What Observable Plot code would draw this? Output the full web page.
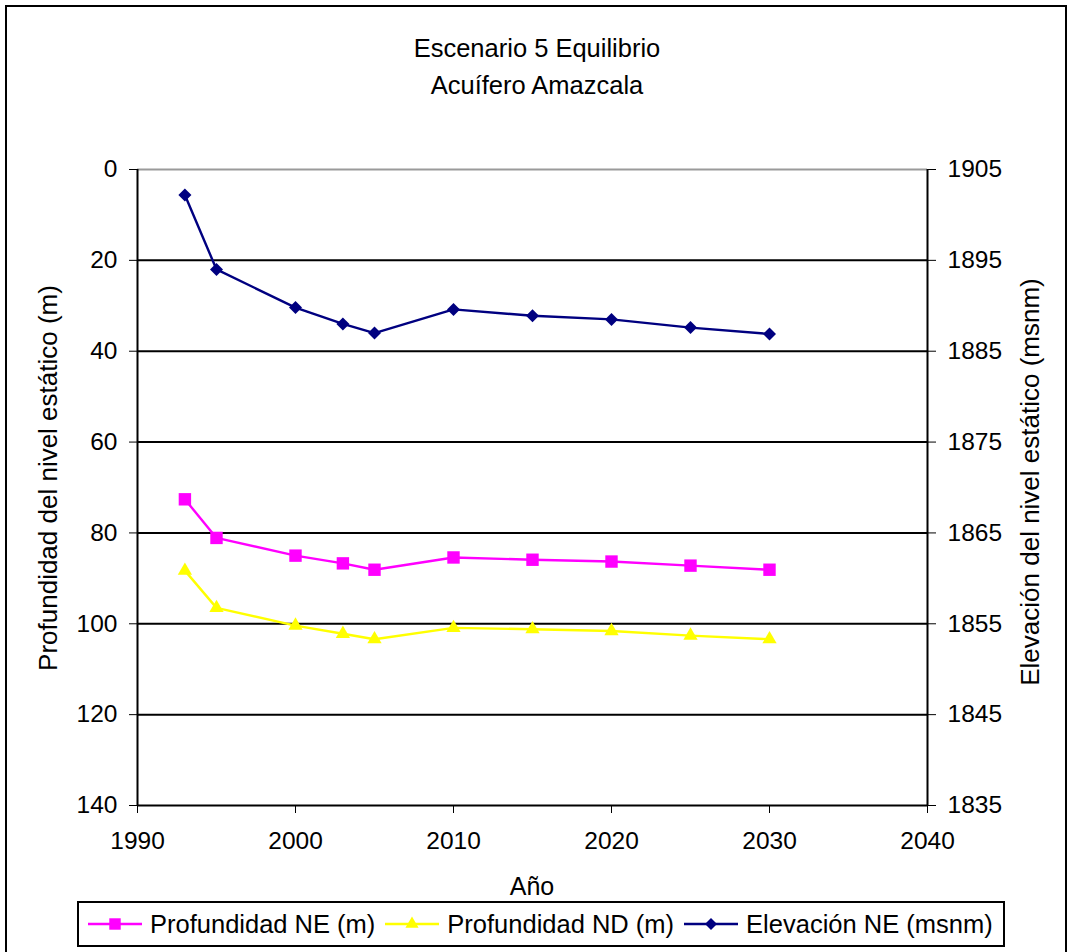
<!DOCTYPE html>
<html>
<head>
<meta charset="utf-8">
<script src="https://cdn.jsdelivr.net/npm/d3@7"></script>
<script src="https://cdn.jsdelivr.net/npm/@observablehq/plot@0.6"></script>
<style>
  body { margin: 0; background: #fff; font-family: "Liberation Sans", Arial, sans-serif; color: #000; }
  #chart { position: relative; width: 1070px; height: 952px; overflow: hidden; background: #fff; }
  #frame { position: absolute; left: 5px; top: 5px; width: 1062px; height: 1000px; border: 2px solid #000; box-sizing: border-box; }
  #plot { position: absolute; left: 0; top: 0; }
  .title { position: absolute; left: 0; top: 30px; width: 1074px; text-align: center; font-size: 25.5px; line-height: 37px; }
  .axlabel { position: absolute; font-size: 26px; white-space: nowrap; transform: translate(-50%, -50%); }
  .axlabel.rot { transform: translate(-50%, -50%) rotate(-90deg); }
  #legend { position: absolute; left: 77px; top: 901px; width: 928px; height: 46px; border: 2px solid #000; box-sizing: border-box; display: flex; align-items: center; font-size: 25.5px; padding-left: 9px; }
  #legend .item { display: flex; align-items: center; margin-right: 10px; }
  #legend svg { margin-right: 8px; }
</style>
</head>
<body>
<div id="chart">
  <div id="frame"></div>
  <div id="plot"></div>
  <div class="title">Escenario 5 Equilibrio<br>Acuífero Amazcala</div>
  <div class="axlabel rot" style="left:48px; top:478px;">Profundidad del nivel estático (m)</div>
  <div class="axlabel rot" style="left:1030px; top:482px;">Elevación del nivel estático (msnm)</div>
  <div class="axlabel" style="left:532px; top:886px; font-size:25px;">Año</div>
  <div id="legend"></div>
</div>
<script>
// Simulated static levels, Amazcala aquifer (scenario 5, equilibrium)
const years  = [1993, 1995, 2000, 2003, 2005, 2010, 2015, 2020, 2025, 2030];
const profNE = [72.6, 81.1, 85.0, 86.7, 88.1, 85.4, 85.9, 86.3, 87.2, 88.1];        // m
const profND = [88.3, 96.5, 100.4, 102.2, 103.4, 100.9, 101.2, 101.6, 102.6, 103.4]; // m
const elevNE = [1902.2, 1894.0, 1889.8, 1888.0, 1887.0, 1889.6, 1888.9, 1888.5, 1887.6, 1886.9]; // msnm

const yearTicks  = [1990, 2000, 2010, 2020, 2030, 2040];
const depthTicks = [0, 20, 40, 60, 80, 100, 120, 140];
const gridTicks  = [20, 40, 60, 80, 100, 120];

// Right axis: elevation 1905 ↔ depth 0, 1835 ↔ depth 140 (2 m of depth per m of elevation)
const elevTop = 1905;
const elevToDepth = e => (elevTop - e) * 2;
const depthToElev = d => elevTop - d / 2;

const series = [
  {key: "Profundidad NE (m)",    color: "#ff00ff", symbol: "square",   r: 7.0, rotate: 0,  values: profNE, toY: v => v},
  {key: "Profundidad ND (m)",    color: "#ffff00", symbol: "triangle", r: 5.3, rotate: 0,  values: profND, toY: v => v},
  {key: "Elevación NE (msnm)",   color: "#000080", symbol: "square",   r: 5.2, rotate: 45, values: elevNE, toY: elevToDepth}
];

const rows = s => years.map((year, i) => ({year, y: s.toY(s.values[i])}));

const marks = [
  Plot.gridY(gridTicks, {stroke: "#000", strokeOpacity: 1, strokeWidth: 2}),
  Plot.ruleY([0], {stroke: "#9a9a9a", strokeWidth: 2}),
  Plot.ruleY([140], {stroke: "#000", strokeWidth: 2}),
  Plot.ruleX([1990, 2040], {stroke: "#000", strokeWidth: 2}),
  Plot.axisX({ticks: yearTicks, tickFormat: d => String(d), tickSize: 8, tickPadding: 18, label: null}),
  Plot.axisY({ticks: depthTicks, tickFormat: d => String(d), tickSize: 8, tickPadding: 12, label: null}),
  Plot.axisY({anchor: "right", ticks: depthTicks, tickFormat: d => String(depthToElev(d)), tickSize: 8, tickPadding: 12, label: null})
];

for (const s of series) {
  const data = rows(s);
  marks.push(Plot.line(data, {x: "year", y: "y", stroke: s.color, strokeWidth: 2.4}));
  marks.push(Plot.dot(data, {x: "year", y: "y", symbol: s.symbol, r: s.r, fill: s.color, stroke: "none", rotate: s.rotate}));
}

const chart = Plot.plot({
  width: 1070,
  height: 880,
  marginLeft: 137,
  marginRight: 143,
  marginTop: 169,
  marginBottom: 75,
  style: {fontSize: "24.5px", fontFamily: "Liberation Sans, Arial, sans-serif", color: "#000", background: "transparent"},
  x: {domain: [1990, 2040]},
  y: {domain: [0, 140], reverse: true},
  marks
});
document.getElementById("plot").appendChild(chart);

// Legend
const legend = document.getElementById("legend");
for (const s of series) {
  const item = document.createElement("div");
  item.className = "item";
  const sw = d3.create("svg").attr("width", 54).attr("height", 20);
  sw.append("line").attr("x1", 0).attr("x2", 54).attr("y1", 10).attr("y2", 10)
    .attr("stroke", s.color).attr("stroke-width", 2.4);
  const shape = s.symbol === "triangle" ? d3.symbolTriangle : d3.symbolSquare;
  sw.append("path")
    .attr("d", d3.symbol(shape, Math.PI * s.r * s.r * 0.85)())
    .attr("transform", `translate(27,10) rotate(${s.rotate})`)
    .attr("fill", s.color);
  item.appendChild(sw.node());
  const t = document.createElement("span");
  t.textContent = s.key;
  item.appendChild(t);
  legend.appendChild(item);
}
</script>
</body>
</html>
